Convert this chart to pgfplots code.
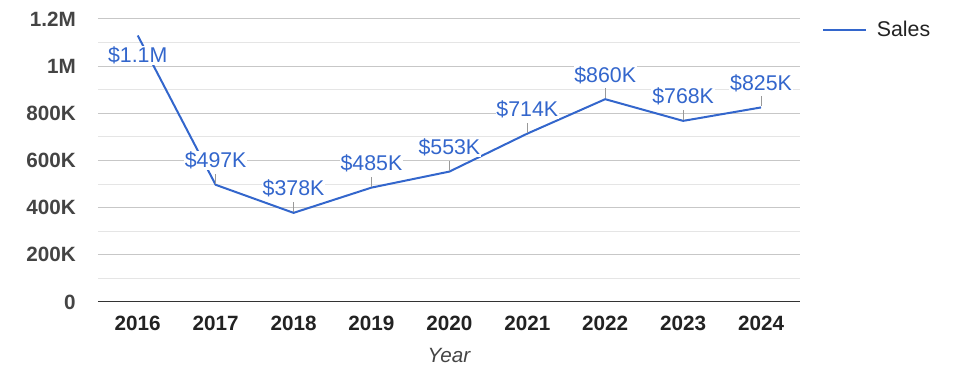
\documentclass[border=0pt]{standalone}
\usepackage{pgfplots}
\pgfplotsset{compat=1.18}
\usepackage{fontspec}
\setmainfont{Liberation Sans}
\definecolor{sales}{HTML}{3366CC}
\definecolor{tickgray}{HTML}{444444}
\definecolor{xgray}{HTML}{222222}
\newcommand{\lbl}{\fontsize{16}{19}\selectfont}
\begin{document}
\begin{tikzpicture}
\begin{axis}[
  scale only axis, width=526.5pt, height=212.25pt,
  xmin=-0.51, xmax=8.5, ymin=0, ymax=1200000,
  xtick={0,1,2,3,4,5,6,7,8},
  xticklabels={2016,2017,2018,2019,2020,2021,2022,2023,2024},
  ytick={0,200000,400000,600000,800000,1000000,1200000},
  yticklabels={0,200K,400K,600K,800K,1M,1.2M},
  minor ytick={100000,300000,500000,700000,900000,1100000},
  scaled y ticks=false,
  ymajorgrids, yminorgrids,
  major grid style={draw=black!22, line width=0.75pt},
  minor grid style={draw=black!10, line width=0.75pt},
  axis line style={draw=none},
  major tick style={draw=none}, minor tick style={draw=none},
  yticklabel style={anchor=east, inner sep=0pt, xshift=-16.5pt,
    font=\fontsize{15.5}{18}\selectfont\bfseries, text=tickgray},
  xticklabel style={anchor=north, inner sep=0pt, yshift=-10pt,
    font=\fontsize{15.5}{18}\selectfont\bfseries, text=xgray},
  xlabel={Year},
  xlabel style={at={(rel axis cs:0.5,0)}, anchor=north, inner sep=0pt, yshift=-34.5pt,
    font=\fontsize{15.5}{18}\selectfont\itshape, text=tickgray},
  legend style={at={(axis description cs:1.0313,0.961)}, anchor=west, draw=none, fill=none,
    inner sep=0pt, font=\lbl, text=xgray, nodes={inner sep=0pt}},
  legend cell align=left,
  legend image code/.code={\draw[#1] (0pt,0pt) -- (32pt,0pt); \path (39.5pt,0pt);},
  clip=false,
]
\coordinate (O) at (rel axis cs:0,0);
\draw[draw=black!80, line width=0.75pt] (rel axis cs:0,0) -- (rel axis cs:1,0);
\addplot[sales, line width=1.5pt, mark=none] coordinates {
  (0,1130000) (1,497000) (2,378000) (3,485000) (4,553000)
  (5,714000) (6,860000) (7,768000) (8,825000)
};
\addlegendentry{Sales}
% leader ticks
\draw[black!40, line width=0.75pt] (axis cs:0,1130000) ++(3.5pt,-8pt) -- ++(0pt,-9pt);
\draw[black!40, line width=0.75pt] (axis cs:1,497000) ++(0pt,0.75pt) -- ++(0pt,7.5pt);
\draw[black!40, line width=0.75pt] (axis cs:2,378000) ++(0pt,0.75pt) -- ++(0pt,7.5pt);
\draw[black!40, line width=0.75pt] (axis cs:3,485000) ++(0pt,0.75pt) -- ++(0pt,7.5pt);
\draw[black!40, line width=0.75pt] (axis cs:4,553000) ++(0pt,0.75pt) -- ++(0pt,7.5pt);
\draw[black!40, line width=0.75pt] (axis cs:5,714000) ++(0pt,0.75pt) -- ++(0pt,7.5pt);
\draw[black!40, line width=0.75pt] (axis cs:6,860000) ++(0pt,0.75pt) -- ++(0pt,7.5pt);
\draw[black!40, line width=0.75pt] (axis cs:7,768000) ++(0pt,0.75pt) -- ++(0pt,7.5pt);
\draw[black!40, line width=0.75pt] (axis cs:8,825000) ++(0pt,0.75pt) -- ++(0pt,7.5pt);
% data labels
\tikzset{dl/.style={anchor=base, fill=white, inner sep=0.6pt, text=sales, font=\lbl}}
\node[dl, yshift=-20.25pt] at (axis cs:0,1130000) {\$1.1M};
\node[dl, yshift=12.75pt] at (axis cs:1,497000) {\$497K};
\node[dl, yshift=12.75pt] at (axis cs:2,378000) {\$378K};
\node[dl, yshift=12.75pt] at (axis cs:3,485000) {\$485K};
\node[dl, yshift=12.75pt] at (axis cs:4,553000) {\$553K};
\node[dl, yshift=12.75pt] at (axis cs:5,714000) {\$714K};
\node[dl, yshift=12.75pt] at (axis cs:6,860000) {\$860K};
\node[dl, yshift=12.75pt] at (axis cs:7,768000) {\$768K};
\node[dl, yshift=12.75pt] at (axis cs:8,825000) {\$825K};
\end{axis}
\pgfresetboundingbox
\path ([shift={(-73.5pt,-57pt)}]O) rectangle ([shift={(657.75pt,226.5pt)}]O);
\end{tikzpicture}
\end{document}
